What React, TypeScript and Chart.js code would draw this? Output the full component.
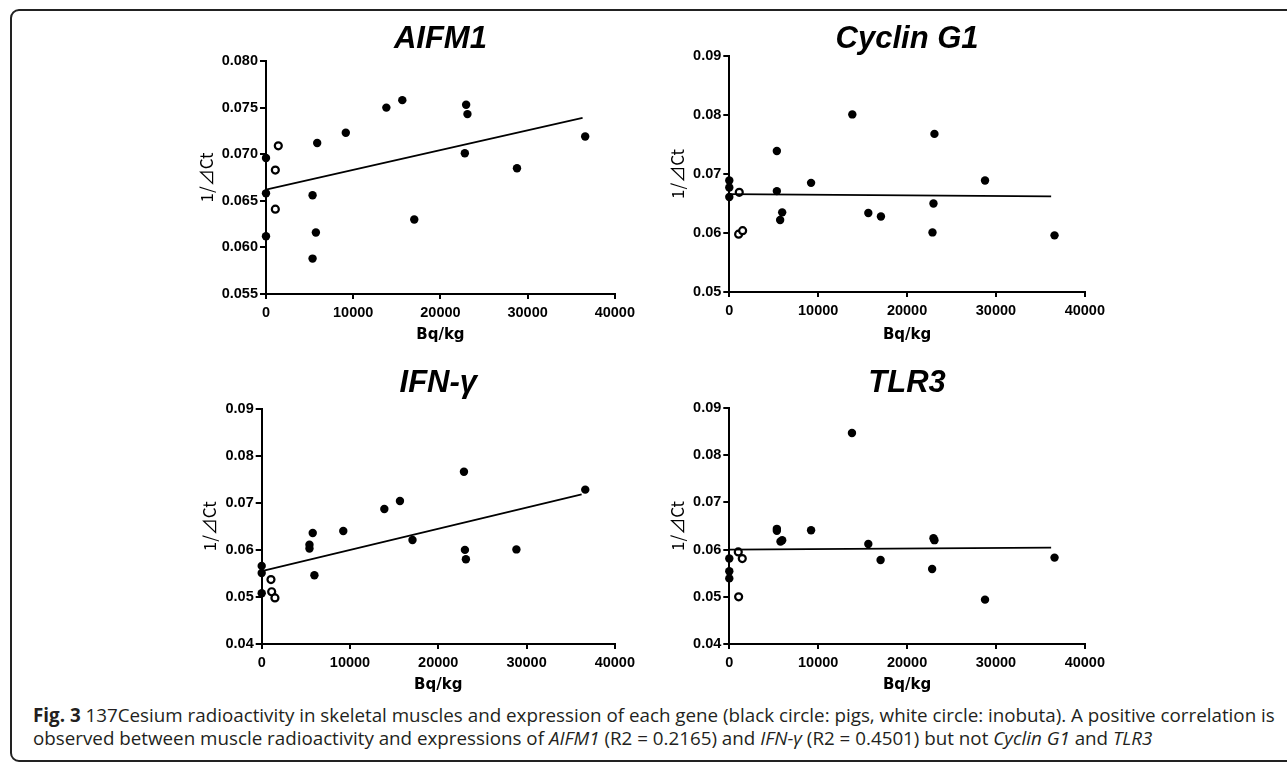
import React, { useEffect, useRef } from "react";
import { Chart, registerables } from "chart.js";

Chart.register(...registerables);

// ---------- Data ----------
const xTicks = [0, 10000, 20000, 30000, 40000];

// AIFM1
const aifm1PigX = [0, 0, 0, 5340, 5340, 5720, 5870, 9150, 13800, 15630, 17000, 22950, 23100, 22800, 28780, 36600];
const aifm1PigY = [0.0696, 0.0658, 0.0612, 0.0656, 0.0588, 0.0616, 0.0712, 0.0723, 0.075, 0.0758, 0.063, 0.0753, 0.0743, 0.0701, 0.0685, 0.0719];
const aifm1InoX = [1410, 1070, 1070];
const aifm1InoY = [0.0709, 0.0683, 0.0641];
const aifm1FitX = [0, 36300];
const aifm1FitY = [0.0662, 0.0739];

// Cyclin G1
const cycPigX = [0, 0, 0, 5350, 5350, 5950, 5720, 9200, 13840, 15640, 17060, 23080, 22970, 22860, 28770, 36590];
const cycPigY = [0.0689, 0.0677, 0.0661, 0.0739, 0.0671, 0.0635, 0.0622, 0.0685, 0.0801, 0.0634, 0.0628, 0.0768, 0.065, 0.0601, 0.0689, 0.0596];
const cycInoX = [1120, 1050, 1500];
const cycInoY = [0.0669, 0.0598, 0.0604];
const cycFitX = [0, 36210];
const cycFitY = [0.0666, 0.0662];

// IFN-γ
const ifnPigX = [0, 0, 0, 5410, 5410, 5780, 5970, 9240, 13890, 15660, 17080, 22910, 23020, 23130, 28850, 36650];
const ifnPigY = [0.0566, 0.0551, 0.0508, 0.0611, 0.0603, 0.0636, 0.0546, 0.064, 0.0687, 0.0704, 0.0621, 0.0766, 0.06, 0.058, 0.0601, 0.0728];
const ifnInoX = [1050, 1130, 1500];
const ifnInoY = [0.0537, 0.0511, 0.0498];
const ifnFitX = [0, 36240];
const ifnFitY = [0.0555, 0.0718];

// TLR3
const tlrPigX = [0, 0, 0, 5350, 5350, 5760, 5950, 9200, 13800, 15640, 17020, 22970, 23080, 22820, 28770, 36590];
const tlrPigY = [0.0581, 0.0554, 0.0539, 0.0644, 0.064, 0.0617, 0.062, 0.0641, 0.0847, 0.0612, 0.0578, 0.0624, 0.062, 0.0559, 0.0494, 0.0583];
const tlrInoX = [1010, 1460, 1050];
const tlrInoY = [0.0595, 0.0581, 0.05];
const tlrFitX = [0, 36210];
const tlrFitY = [0.06, 0.0604];

// y-axis ticks
const aifm1YTicks = [0.055, 0.06, 0.065, 0.07, 0.075, 0.08];
const cycYTicks = [0.05, 0.06, 0.07, 0.08, 0.09];
const ifnYTicks = [0.04, 0.05, 0.06, 0.07, 0.08, 0.09];
const tlrYTicks = [0.04, 0.05, 0.06, 0.07, 0.08, 0.09];

const xLabel = "Bq/kg";
const yLabel = "1/⊿Ct";

type PanelDef = {
  title: string;
  pigX: number[];
  pigY: number[];
  inoX: number[];
  inoY: number[];
  fitX: number[];
  fitY: number[];
  yTicks: number[];
  decimals: number;
  left: number;
  top: number;
  width: number;
  height: number;
  padRight: number;
  yScaleWidth: number;
  yTitlePad: number;
  xScaleHeight: number;
  titlePadTop: number;
  titlePadBottom: number;
};

const panels: PanelDef[] = [
  {
    title: "AIFM1", pigX: aifm1PigX, pigY: aifm1PigY, inoX: aifm1InoX, inoY: aifm1InoY,
    fitX: aifm1FitX, fitY: aifm1FitY, yTicks: aifm1YTicks, decimals: 3,
    left: 180, top: 0, width: 460, height: 350, padRight: 24.3, yScaleWidth: 86, yTitlePad: 16.8,
    xScaleHeight: 56, titlePadTop: 24.2, titlePadBottom: 5.8,
  },
  {
    title: "Cyclin G1", pigX: cycPigX, pigY: cycPigY, inoX: cycInoX, inoY: cycInoY,
    fitX: cycFitX, fitY: cycFitY, yTicks: cycYTicks, decimals: 2,
    left: 650, top: 0, width: 460, height: 350, padRight: 25, yScaleWidth: 79.3, yTitlePad: 17.8,
    xScaleHeight: 58, titlePadTop: 23.5, titlePadBottom: 1.5,
  },
  {
    title: "IFN-γ", pigX: ifnPigX, pigY: ifnPigY, inoX: ifnInoX, inoY: ifnInoY,
    fitX: ifnFitX, fitY: ifnFitY, yTicks: ifnYTicks, decimals: 2,
    left: 180, top: 350, width: 460, height: 350, padRight: 23.3, yScaleWidth: 81.7, yTitlePad: 19.8,
    xScaleHeight: 56, titlePadTop: 18, titlePadBottom: 9.7,
  },
  {
    title: "TLR3", pigX: tlrPigX, pigY: tlrPigY, inoX: tlrInoX, inoY: tlrInoY,
    fitX: tlrFitX, fitY: tlrFitY, yTicks: tlrYTicks, decimals: 2,
    left: 650, top: 350, width: 460, height: 350, padRight: 25, yScaleWidth: 79.3, yTitlePad: 17.8,
    xScaleHeight: 56, titlePadTop: 18, titlePadBottom: 9,
  },
];

const INK = "#000";
const SANS = '"Liberation Sans", Arial, sans-serif';

function Panel({ p }: { p: PanelDef }) {
  const ref = useRef<HTMLCanvasElement | null>(null);
  useEffect(() => {
    if (!ref.current) return;
    const yMin = p.yTicks[0];
    const yMax = p.yTicks[p.yTicks.length - 1];
    const yStep = p.yTicks[1] - p.yTicks[0];
    const chart = new Chart(ref.current, {
      type: "scatter",
      data: {
        datasets: [
          {
            type: "line",
            data: p.fitX.map((x, i) => ({ x, y: p.fitY[i] })),
            borderColor: INK,
            borderWidth: 1.7,
            pointRadius: 0,
            fill: false,
            clip: false,
          } as any,
          {
            data: p.pigX.map((x, i) => ({ x, y: p.pigY[i] })),
            backgroundColor: INK,
            borderColor: INK,
            borderWidth: 0,
            pointRadius: 4.2,
            clip: false,
          },
          {
            data: p.inoX.map((x, i) => ({ x, y: p.inoY[i] })),
            backgroundColor: "#fff",
            borderColor: INK,
            borderWidth: 2.2,
            pointRadius: 3.5,
            clip: false,
          },
        ],
      },
      options: {
        responsive: false,
        animation: false,
        layout: { padding: { left: 0, top: 0, bottom: 0, right: p.padRight } },
        plugins: {
          legend: { display: false },
          tooltip: { enabled: false },
          title: {
            display: true,
            text: p.title,
            fullSize: false,
            color: INK,
            font: { family: SANS, size: 31, weight: "bold", style: "italic", lineHeight: 1 },
            padding: { top: p.titlePadTop, bottom: p.titlePadBottom },
          },
        },
        scales: {
          x: {
            type: "linear",
            min: xTicks[0],
            max: xTicks[xTicks.length - 1],
            afterFit: (s: any) => { s.height = p.xScaleHeight; },
            ticks: {
              stepSize: xTicks[1] - xTicks[0],
              color: INK,
              padding: 5,
              font: { family: SANS, size: 14.5, weight: "bold" },
              callback: (v: any) => String(v),
              maxRotation: 0,
            },
            grid: { display: true, drawOnChartArea: false, drawTicks: true, tickLength: 5, color: INK, lineWidth: 2 },
            border: { display: true, color: INK, width: 2 },
            title: {
              display: true,
              text: xLabel,
              color: INK,
              font: { family: '"DejaVu Sans", sans-serif', size: 15, weight: "bold", lineHeight: 1.2 },
              padding: { top: 0, bottom: 6 },
            },
          },
          y: {
            type: "linear",
            min: yMin,
            max: yMax,
            afterFit: (s: any) => { s.width = p.yScaleWidth; },
            ticks: {
              stepSize: yStep,
              color: INK,
              padding: 2,
              font: { family: SANS, size: 14.5, weight: "bold" },
              callback: (v: any) => Number(v).toFixed(p.decimals),
            },
            grid: { display: true, drawOnChartArea: false, drawTicks: true, tickLength: 6, color: INK, lineWidth: 2 },
            border: { display: true, color: INK, width: 2 },
            title: {
              display: true,
              text: yLabel,
              color: INK,
              font: { family: '"Noto Sans CJK JP", sans-serif', size: 17, weight: "normal", lineHeight: 1.2 },
              padding: { top: p.yTitlePad, bottom: 0 },
            },
          },
        },
      },
    } as any);
    return () => chart.destroy();
  }, [p]);
  return (
    <canvas
      ref={ref}
      width={p.width}
      height={p.height}
      style={{ position: "absolute", left: p.left, top: p.top, width: p.width, height: p.height }}
    />
  );
}

export default function App() {
  return (
    <div
      style={{
        position: "fixed",
        left: 0,
        top: 0,
        width: 1287,
        height: 762,
        overflow: "hidden",
        background: "#fff",
      }}
    >
      <div
        style={{
          position: "absolute",
          left: 10,
          top: 9,
          width: 1320,
          height: 749,
          border: "2px solid #222",
          borderRadius: 9,
        }}
      />
      {panels.map((p) => (
        <Panel key={p.title} p={p} />
      ))}
      <div
        style={{
          position: "absolute",
          left: 33,
          top: 704,
          font: '18.8px "Open Sans", sans-serif',
          lineHeight: "23px",
          color: "#231f20",
          whiteSpace: "nowrap",
        }}
      >
        <b>Fig. 3</b> 137Cesium radioactivity in skeletal muscles and expression of each gene (black circle: pigs, white circle: inobuta). A positive correlation is
        <br />
        observed between muscle radioactivity and expressions of <i>AIFM1</i> (R2 = 0.2165) and <i>IFN-γ</i> (R2 = 0.4501) but not <i>Cyclin G1</i> and <i>TLR3</i>
      </div>
    </div>
  );
}
